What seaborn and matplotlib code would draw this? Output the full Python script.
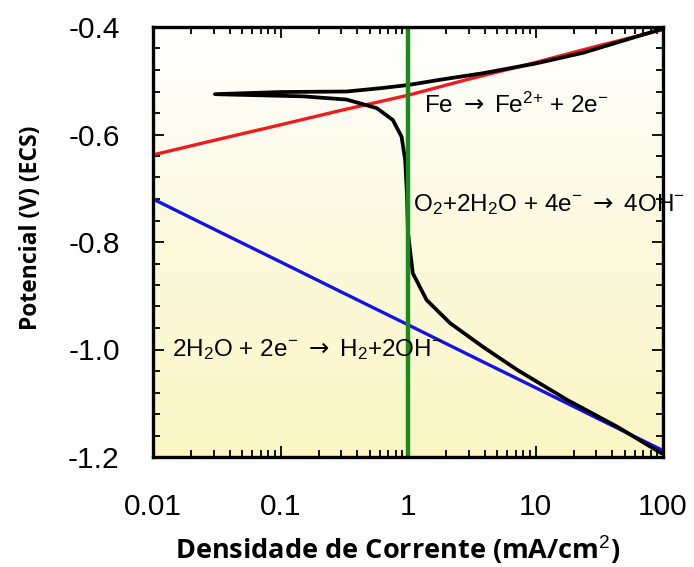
import numpy as np
import pandas as pd
import matplotlib
matplotlib.use("Agg")
import matplotlib.pyplot as plt
from matplotlib.ticker import FixedLocator, FixedFormatter, LogLocator, NullFormatter, MultipleLocator
from matplotlib.colors import LinearSegmentedColormap
import seaborn as sns

# ---- data ----
red_x = [0.01, 0.03, 0.1, 0.3, 1, 3, 10, 30, 100]
red_y = [-0.638, -0.611, -0.582, -0.555, -0.527, -0.497, -0.466, -0.436, -0.405]

blue_x = [0.01, 0.03, 0.1, 0.3, 1, 3, 10, 30, 100]
blue_y = [-0.720, -0.776, -0.837, -0.893, -0.954, -1.010, -1.071, -1.127, -1.188]

# black polarization curve: cathodic branch from 100 back to the tip, then anodic branch
black_x = [97, 44, 17.8, 7.2, 3.87, 2.14, 1.40, 1.09, 1.0, 0.98, 0.95, 0.89, 0.76, 0.57,
           0.33, 0.15, 0.0306,
           0.1, 0.33, 0.6, 1.0, 1.8, 3.87, 10, 23.6, 100]
black_y = [-1.193, -1.144, -1.094, -1.038, -0.995, -0.951, -0.908, -0.858, -0.783, -0.709,
           -0.647, -0.604, -0.573, -0.551, -0.535, -0.529, -0.525,
           -0.521, -0.520, -0.514, -0.508, -0.498, -0.486, -0.468, -0.448, -0.403]

green_x = 1.0

x_ticks = [0.01, 0.1, 1, 10, 100]
x_labels = ["0.01", "0.1", "1", "10", "100"]
y_ticks = [-1.2, -1.0, -0.8, -0.6, -0.4]
y_labels = ["-1.2", "-1.0", "-0.8", "-0.6", "-0.4"]

label_fe = r"Fe $\mathsf{\rightarrow}$ Fe$^{2{+}}$ + 2e$^{-}$"
label_o2 = r"O$_2$+2H$_2$O + 4e$^{-}$ $\mathsf{\rightarrow}$ 4OH$^{-}$"
label_h2 = r"2H$_2$O + 2e$^{-}$ $\mathsf{\rightarrow}$ H$_2$+2OH$^{-}$"

# ---- style ----
sns.set_style("ticks")
plt.rcParams['font.family'] = ['Liberation Sans', 'DejaVu Sans']
plt.rcParams['mathtext.fontset'] = 'custom'
plt.rcParams['mathtext.rm'] = 'Liberation Sans'
plt.rcParams['mathtext.it'] = 'Liberation Sans:italic'
plt.rcParams['mathtext.bf'] = 'Liberation Sans:bold'
plt.rcParams['mathtext.sf'] = 'DejaVu Sans'
plt.rcParams['text.color'] = 'black'
plt.rcParams['axes.labelcolor'] = 'black'
plt.rcParams['xtick.color'] = 'black'
plt.rcParams['ytick.color'] = 'black'

fig = plt.figure(figsize=(6.94, 5.67), dpi=100)
ax = fig.add_axes([153/694, 1-457/567, 510/694, 430/567])

# background gradient: pale yellow at bottom to white at top
cmap = LinearSegmentedColormap.from_list("bg", ["#fbf6c4", "#fcf9de", "#ffffff"])
grad = np.linspace(0, 1, 256).reshape(-1, 1)
ax.imshow(grad, extent=[0, 1, 0, 1], transform=ax.transAxes, cmap=cmap,
          origin="lower", aspect="auto", zorder=0)

df_red = pd.DataFrame({"x": red_x, "y": red_y})
df_blue = pd.DataFrame({"x": blue_x, "y": blue_y})
df_black = pd.DataFrame({"x": black_x, "y": black_y})

sns.lineplot(data=df_red, x="x", y="y", color="#ee1c1c", lw=2.4, ax=ax,
             sort=False, estimator=None, zorder=2)
sns.lineplot(data=df_blue, x="x", y="y", color="#1414e0", lw=2.4, ax=ax,
             sort=False, estimator=None, zorder=2)
sns.lineplot(data=df_black, x="x", y="y", color="black", lw=2.7, ax=ax,
             sort=False, estimator=None, zorder=3)
ax.axvline(green_x, color="#1a8a1a", lw=3.2, zorder=4)

ax.set_xscale("log")
ax.set_xlim(0.01, 100)
ax.set_ylim(-1.2, -0.4)

ax.xaxis.set_major_locator(FixedLocator(x_ticks))
ax.xaxis.set_major_formatter(FixedFormatter(x_labels))
ax.xaxis.set_minor_locator(LogLocator(base=10, subs=np.arange(2, 10)))
ax.xaxis.set_minor_formatter(NullFormatter())
ax.yaxis.set_major_locator(FixedLocator(y_ticks))
ax.yaxis.set_major_formatter(FixedFormatter(y_labels))
ax.yaxis.set_minor_locator(MultipleLocator(0.04))

ax.tick_params(which="both", direction="in", top=True, right=True, width=1.3, color="black")
ax.tick_params(which="major", length=8)
ax.tick_params(which="minor", length=5)
ax.tick_params(axis="x", which="major", labelsize=21.5, pad=26, labelcolor="black")
ax.tick_params(axis="y", which="major", labelsize=21.5, pad=24, labelcolor="black")

for sp in ax.spines.values():
    sp.set_linewidth(2.4)
    sp.set_color("black")
    sp.set_zorder(5)

ax.set_xlabel("Densidade de Corrente (mA/cm$^2$)", fontsize=19.5, fontweight="bold",
              family=["Open Sans", "DejaVu Sans"])
ax.xaxis.set_label_coords(0.479, -0.178)
ax.set_ylabel("Potencial (V) (ECS)", fontsize=16.5, fontweight="bold",
              family=["Open Sans", "DejaVu Sans"])
ax.yaxis.set_label_coords(-0.215, 0.533)

ax.text(1.34, -0.545, label_fe, fontsize=17.5, va="center", ha="left", zorder=6, clip_on=False)
ax.text(1.09, -0.731, label_o2, fontsize=17.5, va="center", ha="left", zorder=6, clip_on=False)
ax.text(0.0141, -1.001, label_h2, fontsize=17.5, va="center", ha="left", zorder=6, clip_on=False)

fig.savefig("out.png", dpi=100)
